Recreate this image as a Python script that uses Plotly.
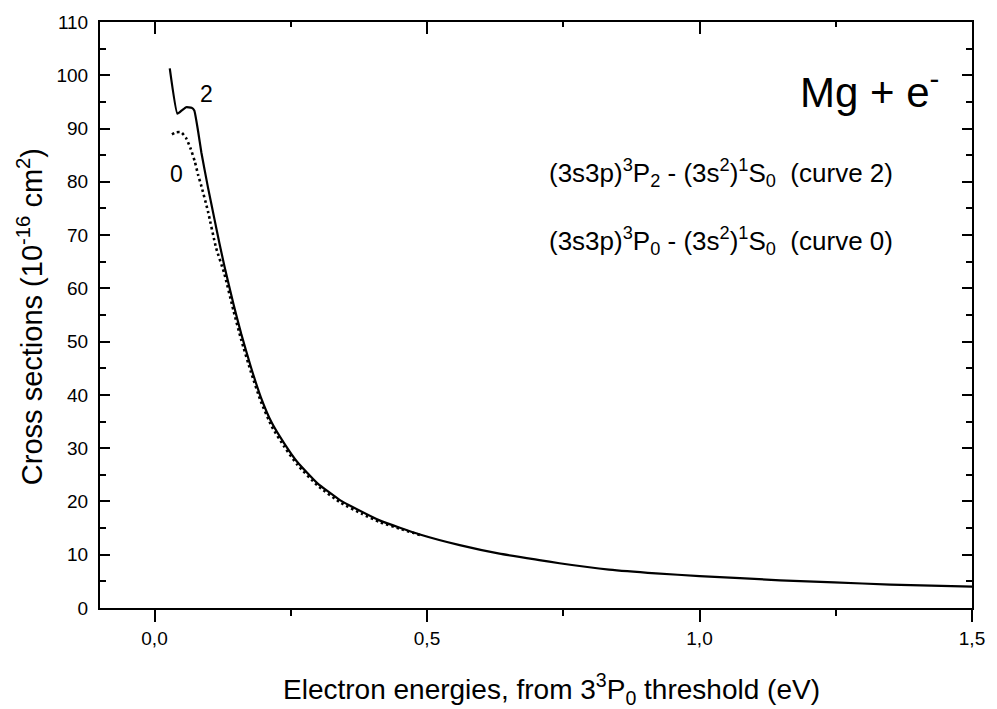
import plotly.graph_objects as go

# Curve 2: (3s3p)3P2 - (3s2)1S0  (solid)
curve2_x = [0.028, 0.042, 0.050, 0.058, 0.068, 0.073, 0.080, 0.086, 0.098, 0.110,
            0.119, 0.128, 0.145, 0.159, 0.177, 0.195, 0.215, 0.238, 0.262, 0.299,
            0.341, 0.359, 0.414, 0.487, 0.560, 0.633, 0.706, 0.743, 0.834, 0.920,
            1.000, 1.148, 1.247, 1.350, 1.500]
curve2_y = [101.3, 92.8, 93.4, 94.0, 93.9, 93.4, 89.5, 85.5, 79.0, 73.0,
            68.5, 64.3, 57.0, 51.5, 45.2, 39.6, 34.8, 30.9, 27.4, 23.4,
            20.2, 19.2, 16.4, 13.8, 11.8, 10.2, 9.0, 8.4, 7.2, 6.5,
            6.0, 5.2, 4.8, 4.4, 4.0]

# Curve 0: (3s3p)3P0 - (3s2)1S0  (dotted)
curve0_x = [0.032, 0.040, 0.049, 0.058, 0.066, 0.074, 0.080, 0.086, 0.098, 0.113,
            0.128, 0.145, 0.159, 0.177, 0.195, 0.215, 0.238, 0.262, 0.299, 0.341,
            0.380, 0.414, 0.450, 0.487]
curve0_y = [88.9, 89.3, 89.3, 88.2, 86.3, 83.8, 81.3, 79.2, 74.5, 67.6,
            62.8, 55.8, 50.4, 44.3, 38.8, 34.1, 30.3, 26.9, 23.0, 19.8,
            17.7, 16.1, 14.9, 13.7]

x_tickvals = [0.0, 0.5, 1.0, 1.5]
x_ticktext = ["0,0", "0,5", "1,0", "1,5"]
y_tickvals = [0, 10, 20, 30, 40, 50, 60, 70, 80, 90, 100, 110]

FONT = "Liberation Sans, Arial, Helvetica, sans-serif"

fig = go.Figure()
fig.add_trace(go.Scatter(x=curve0_x, y=curve0_y, mode="lines",
                         line=dict(color="black", width=2.6, dash="2.5px,3px",
                                   shape="spline", smoothing=0.5),
                         showlegend=False, name="curve 0"))
fig.add_trace(go.Scatter(x=curve2_x, y=curve2_y, mode="lines",
                         line=dict(color="black", width=2.2,
                                   shape="spline", smoothing=0.4),
                         showlegend=False, name="curve 2"))
# invisible trace on the top x axis so that its ticks render
fig.add_trace(go.Scatter(x=[0.5], y=[50], xaxis="x2", mode="markers",
                         marker=dict(opacity=0), showlegend=False, hoverinfo="skip"))

fig.update_layout(
    width=997, height=709,
    margin=dict(l=100, r=19, t=19, b=101),
    paper_bgcolor="white", plot_bgcolor="white",
    font=dict(family=FONT, color="black", size=19),
    xaxis=dict(range=[-0.1, 1.5], tickvals=x_tickvals, ticktext=x_ticktext,
               ticks="outside", ticklen=12, tickwidth=2, tickcolor="black",
               minor=dict(dtick=0.25, tick0=0, ticks="outside", ticklen=6,
                          tickwidth=2, tickcolor="black"),
               showline=True, linecolor="black", linewidth=2, mirror=True,
               showgrid=False, zeroline=False,
               tickfont=dict(size=19, family=FONT)),
    xaxis2=dict(range=[-0.1, 1.5], overlaying="x", side="top", matches="x",
                tickvals=x_tickvals, showticklabels=False,
                ticks="inside", ticklen=12, tickwidth=2, tickcolor="black",
                minor=dict(dtick=0.25, tick0=0, ticks="inside", ticklen=5,
                           tickwidth=2, tickcolor="black"),
                showline=False, showgrid=False, zeroline=False),
    yaxis=dict(range=[0, 110], tickvals=y_tickvals,
               ticks="inside", ticklen=10, tickwidth=2, tickcolor="black",
               minor=dict(dtick=5, tick0=0, ticks="inside", ticklen=6,
                          tickwidth=2, tickcolor="black"),
               showline=True, linecolor="black", linewidth=2, mirror="ticks",
               showgrid=False, zeroline=False, ticklabelstandoff=6,
               tickfont=dict(size=19, family=FONT)),
    annotations=[
        dict(x=0.518, y=-0.139, xref="paper", yref="paper", xanchor="center",
             yanchor="middle", showarrow=False,
             text="Electron energies, from 3<sup>3</sup>P<sub>0</sub> threshold (eV)",
             font=dict(size=28, family=FONT)),
        dict(x=-0.081, y=0.497, xref="paper", yref="paper", xanchor="center",
             yanchor="middle", showarrow=False, textangle=-90,
             text="Cross sections (10<sup>-16</sup> cm<sup>2</sup>)",
             font=dict(size=29, family=FONT)),
        dict(x=0.095, y=96.5, xref="x", yref="y", text="2", showarrow=False,
             font=dict(size=23, family=FONT)),
        dict(x=0.040, y=81.5, xref="x", yref="y", text="0", showarrow=False,
             font=dict(size=23, family=FONT)),
        dict(x=0.964, y=0.885, xref="paper", yref="paper", xanchor="right",
             yanchor="middle", text="Mg + e<sup>-</sup>", showarrow=False,
             font=dict(size=42, family=FONT)),
        dict(x=0.5125, y=0.742, xref="paper", yref="paper", xanchor="left",
             yanchor="middle",
             text="(3s3p)<sup>3</sup>P<sub>2</sub> - (3s<sup>2</sup>)<sup>1</sup>S<sub>0</sub>  (curve 2)",
             showarrow=False, font=dict(size=26, family=FONT)),
        dict(x=0.5125, y=0.627, xref="paper", yref="paper", xanchor="left",
             yanchor="middle",
             text="(3s3p)<sup>3</sup>P<sub>0</sub> - (3s<sup>2</sup>)<sup>1</sup>S<sub>0</sub>  (curve 0)",
             showarrow=False, font=dict(size=26, family=FONT)),
    ],
)

fig.write_html("out.html")
